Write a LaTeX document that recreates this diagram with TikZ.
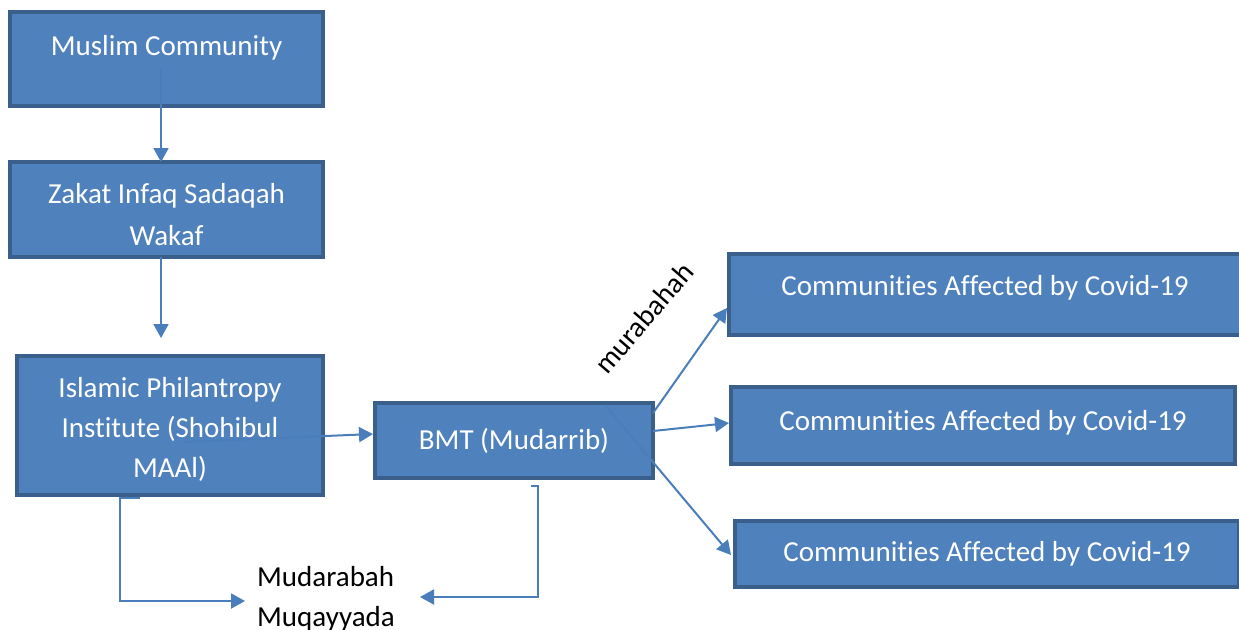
\documentclass[tikz,border=0pt]{standalone}
\usepackage{fontspec}
\setmainfont{Carlito}[Ligatures=NoCommon]
\usetikzlibrary{arrows.meta}
\definecolor{boxfill}{HTML}{4F81BD}
\definecolor{boxborder}{HTML}{3A5F8B}
\definecolor{arrowcol}{HTML}{4A7EBB}
\tikzset{
  box/.style={draw=boxborder, fill=boxfill, line width=4pt, text=white,
    font=\fontsize{29}{40}\selectfont, align=center, inner sep=0pt, outer sep=0pt},
  plain/.style={text=black, font=\fontsize{29}{40}\selectfont, inner sep=0pt},
  arr/.style={draw=arrowcol, line width=2pt, -{Triangle[length=14pt,width=15pt]}}
}
\begin{document}
\begin{tikzpicture}[x=1pt,y=-1pt]
\useasboundingbox (0,0) rectangle (1239,629);
\fill[white] (0,0) rectangle (1239,629);
% boxes
\node[box, minimum width=313pt, minimum height=94pt] (a) at (166.5,59) {\raisebox{28pt}{Muslim Community}};
\node[box, minimum width=313pt, minimum height=95pt] (b) at (166.5,209.5) {\rule{0pt}{30pt}Zakat Infaq Sadaqah\\[2pt]Wakaf};
\node[box, minimum width=306pt, minimum height=139pt] (c) at (170,425.5) {\rule{0pt}{28pt}Islamic Philantropy\\Institute (Shohibul\\MAAl)};
\node[box, minimum width=278pt, minimum height=75pt] (d) at (514,440.5) {BMT (Mudarrib)};
\node[box, minimum width=512pt, minimum height=81pt] (e1) at (985,294.5) {\raisebox{18pt}{Communities Affected by Covid-19}};
\node[box, minimum width=504pt, minimum height=77pt] (e2) at (983,425.5) {\raisebox{10pt}{Communities Affected by Covid-19}};
\node[box, minimum width=504pt, minimum height=66pt] (e3) at (987,554) {Communities Affected by Covid-19};
% labels
\node[plain, align=left, anchor=west] (m) at (257,599) {Mudarabah\\Muqayyada};
\node[plain, rotate=49] (mur) at (644,318) {murabahah};
% coordinates
\coordinate (a1) at (161,68);
\coordinate (b1) at (161,338);
\coordinate (c1) at (183,442);
\coordinate (c2) at (140,498);
\coordinate (c3) at (120,498);
\coordinate (c4) at (120,601);
\coordinate (m1) at (245,601);
\coordinate (d1) at (531,486);
\coordinate (d2) at (538,486);
\coordinate (d3) at (538,597);
\coordinate (m2) at (420,597);
\coordinate (d4) at (653,413);
\coordinate (d5) at (653,431);
\coordinate (d6) at (605,405);
\coordinate (e1t) at (727,308);
\coordinate (e2t) at (729,423);
\coordinate (e3t) at (731,555);
\coordinate (dt) at (373,434);
% connectors
\draw[arr] (a1) -- (a1 |- b.north);
\draw[arr] (b.south -| b1) -- (b1);
\draw[arr] (c1) -- (dt);
\draw[arr] (c2) -- (c3) -- (c4) -- (m1);
\draw[arr] (d1) -- (d2) -- (d3) -- (m2);
\draw[arr] (d4) -- (e1t);
\draw[arr] (d5) -- (e2t);
\draw[arr] (d6) -- (e3t);
\end{tikzpicture}
\end{document}
